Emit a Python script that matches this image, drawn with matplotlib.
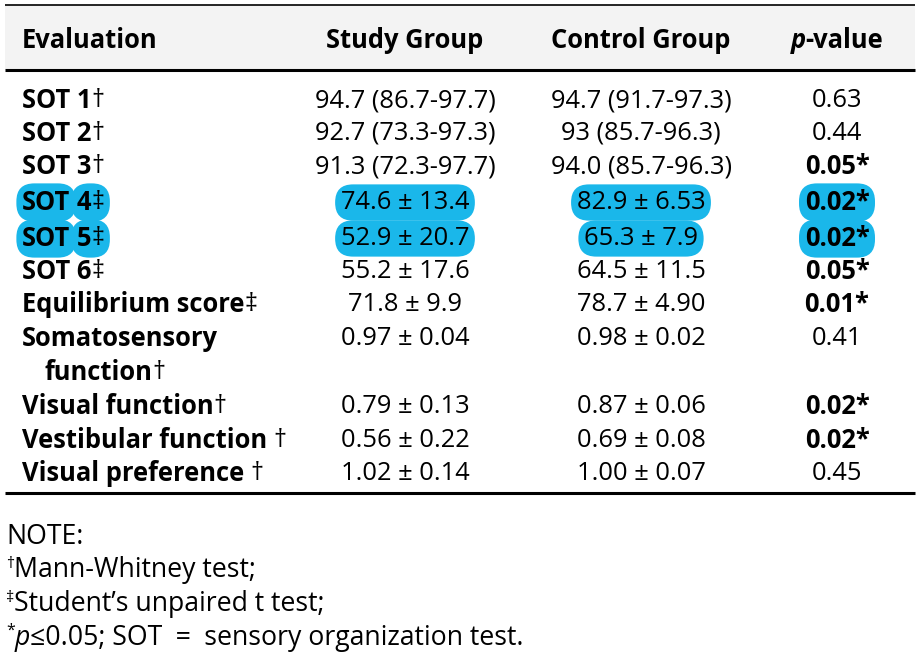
import matplotlib
matplotlib.use("Agg")
import matplotlib.pyplot as plt
from matplotlib.patches import Rectangle, FancyBboxPatch

plt.rcParams['font.family'] = ['Open Sans', 'DejaVu Sans']

# ---------------- data ----------------
headers = ["Evaluation", "Study Group", "Control Group", "p-value"]
evaluations = ["SOT 1†", "SOT 2†", "SOT 3†", "SOT 4‡", "SOT 5‡", "SOT 6‡",
               "Equilibrium score‡", "Somatosensory\nfunction†", "Visual function†",
               "Vestibular function †", "Visual preference †"]
study_group = ["94.7 (86.7-97.7)", "92.7 (73.3-97.3)", "91.3 (72.3-97.7)",
               "74.6 ± 13.4", "52.9 ± 20.7", "55.2 ± 17.6", "71.8 ± 9.9",
               "0.97 ± 0.04", "0.79 ± 0.13", "0.56 ± 0.22", "1.02 ± 0.14"]
control_group = ["94.7 (91.7-97.3)", "93 (85.7-96.3)", "94.0 (85.7-96.3)",
                 "82.9 ± 6.53", "65.3 ± 7.9", "64.5 ± 11.5", "78.7 ± 4.90",
                 "0.98 ± 0.02", "0.87 ± 0.06", "0.69 ± 0.08", "1.00 ± 0.07"]
p_values = ["0.63", "0.44", "0.05*", "0.02*", "0.02*", "0.05*", "0.01*",
            "0.41", "0.02*", "0.02*", "0.45"]
highlighted_rows = [3, 4]
notes_title = "NOTE:"
notes = [("†", "Mann-Whitney test;"),
         ("‡", "Student’s unpaired t test;"),
         ("*", None)]

# ---------------- layout ----------------
W, H = 922, 656
fig = plt.figure(figsize=(W / 100, H / 100), dpi=100)
ax = fig.add_axes([0, 0, 1, 1])
ax.set_xlim(0, W)
ax.set_ylim(H, 0)
ax.axis('off')

FS = 18.4
FS_NOTE = 19.2
HL = '#1ab7ea'
TY = 2.5  # vertical nudge of text baseline
x_eval = 22
x_study = 405
x_ctrl = 641
x_p = 837
row_y = [98, 131, 164, 200, 236, 269, 302, 336, 404, 438, 471]
line_gap = 34

ax.add_patch(Rectangle((5, 5), 910, 64, facecolor='#f3f3f3', edgecolor='none', zorder=0))
ax.plot([5, 915], [4.5, 4.5], color='black', lw=1.2, solid_capstyle='butt')
ax.plot([5, 915], [70, 70], color='black', lw=2.2, solid_capstyle='butt')
ax.plot([5, 915], [493, 493], color='black', lw=2.2, solid_capstyle='butt')

fig.canvas.draw()
renderer = fig.canvas.get_renderer()
inv = ax.transData.inverted()


def data_extent(t):
    bb = t.get_window_extent(renderer=renderer)
    p0 = inv.transform((bb.x0, bb.y0))
    p1 = inv.transform((bb.x1, bb.y1))
    return min(p0[0], p1[0]), max(p0[0], p1[0]), min(p0[1], p1[1]), max(p0[1], p1[1])


def width_of(t):
    x0, x1, _, _ = data_extent(t)
    return x1 - x0


def put(x, y, txt, **kw):
    return ax.text(x, y + TY, txt, va='center', **kw)


def draw_seq(x, y, pieces, ha='left'):
    """pieces: list of (text, kwargs). Draw sequentially left to right."""
    objs = []
    total = 0
    for txt, kw in pieces:
        kw = dict(kw)
        dy = kw.pop('dy', 0)
        t = put(0, y + dy, txt, ha='left', **kw)
        w = width_of(t)
        objs.append((t, w))
        total += w
    cur = x - total / 2 if ha == 'center' else x
    for t, w in objs:
        t.set_x(cur)
        cur += w
    return objs


PAD = 0.22 * FS * 100 / 72
RND = 0.7 * FS * 100 / 72
box = dict(boxstyle='round,pad=0.22,rounding_size=0.7', facecolor=HL, edgecolor='none')


def box_behind(objs):
    ext = [data_extent(t) for t, _ in objs]
    x0 = min(e[0] for e in ext)
    x1 = max(e[1] for e in ext)
    y0 = min(e[2] for e in ext)
    y1 = max(e[3] for e in ext)
    ax.add_patch(FancyBboxPatch((x0, y0), x1 - x0, y1 - y0,
                                boxstyle=f"round,pad={PAD},rounding_size={RND}",
                                facecolor=HL, edgecolor='none', zorder=0.5))


B = dict(fontsize=FS, fontweight='bold')
R = dict(fontsize=FS)
N = dict(fontsize=FS_NOTE)


def label_pieces(text):
    """Bold label text, with a regular-weight trailing dagger."""
    if text and text[-1] in "†‡":
        return [(text[:-1], B), (text[-1], R)]
    return [(text, B)]


# header
put(x_eval, 38, headers[0], ha='left', **B)
put(x_study, 38, headers[1], ha='center', **B)
put(x_ctrl, 38, headers[2], ha='center', **B)
draw_seq(x_p, 38, [("p", dict(B, style='italic')), (headers[3][1:], B)], ha='center')

for i, y in enumerate(row_y):
    hl = i in highlighted_rows
    label = evaluations[i]
    if "\n" in label:
        first, second = label.split("\n")
        draw_seq(x_eval, y, label_pieces(first))
        draw_seq(x_eval + 22, y + line_gap, label_pieces(second))
    elif hl:
        word, num = label.split(" ")
        objs = draw_seq(x_eval, y, [(word, B), (" ", B)] + label_pieces(num))
        # separate highlight boxes behind "SOT" and behind "4‡"
        box_behind(objs[0:1])
        box_behind(objs[2:])
    else:
        draw_seq(x_eval, y, label_pieces(label))

    kw_hl = dict(bbox=box) if hl else {}
    put(x_study, y, study_group[i], ha='center', **R, **kw_hl)
    put(x_ctrl, y, control_group[i], ha='center', **R, **kw_hl)
    pk = B if '*' in p_values[i] else R
    put(x_p, y, p_values[i], ha='center', **pk, **kw_hl)

# notes
x_note = 6
put(x_note, 535, notes_title, ha='left', **N)
note_y = [568, 602, 635]
for (sym, txt), y in zip(notes, note_y):
    sup = (sym, dict(fontsize=FS_NOTE * 0.6, dy=-7))
    if txt is not None:
        draw_seq(x_note, y, [sup, (txt, N)])
    else:
        draw_seq(x_note, y, [sup, ("p", dict(N, style='italic')),
                             ("≤0.05; SOT\u2002=\u2002sensory organization test.", N)])

fig.savefig("out.png", dpi=100)
